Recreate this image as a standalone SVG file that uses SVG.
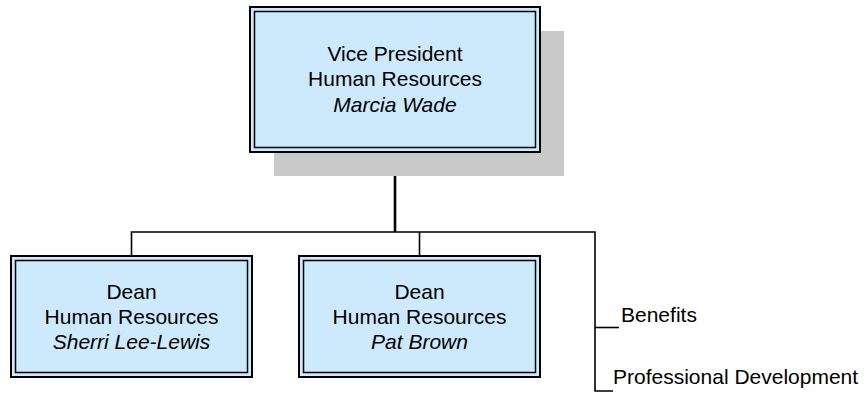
<svg xmlns="http://www.w3.org/2000/svg" width="867" height="393" viewBox="0 0 867 393">
  <style>
    .box { fill: #cdeafd; stroke: #000; stroke-width: 2; }
    .inner { fill: none; stroke: #000; stroke-width: 1.5; }
    .shadow { fill: #c9c9c9; }
    .t { font-family: "Liberation Sans", Arial, sans-serif; font-size: 21px; fill: #000; text-anchor: middle; }
    .lbl { font-family: "Liberation Sans", Arial, sans-serif; font-size: 21px; fill: #000; }
    .it { font-style: italic; }
    .wire { fill: none; stroke: #000; stroke-width: 1.6; }
    .trunk { fill: none; stroke: #000; stroke-width: 2.6; }
  </style>
  <rect width="867" height="393" fill="#fff"/>

  <!-- connectors -->
  <g id="connectors">
    <line class="trunk" x1="395" y1="152" x2="395" y2="232"/>
    <polyline class="wire" points="131.5,256 131.5,232 595,232 595,391 613,391"/>
    <line class="wire" x1="419.5" y1="232" x2="419.5" y2="256"/>
    <line class="wire" x1="595" y1="327.5" x2="619" y2="327.5"/>
  </g>

  <!-- Vice President -->
  <g id="vp">
    <rect class="shadow" x="274" y="31" width="290" height="145"/>
    <rect class="box" x="250" y="7" width="290" height="145"/>
    <rect class="inner" x="254.5" y="11.5" width="281" height="136"/>
    <text class="t" x="395" y="61">Vice President</text>
    <text class="t" x="395" y="86">Human Resources</text>
    <text class="t it" x="395" y="111.5">Marcia Wade</text>
  </g>

  <!-- Dean: Sherri Lee-Lewis -->
  <g id="dean1">
    <rect class="box" x="11" y="256" width="241" height="121"/>
    <rect class="inner" x="15.5" y="260.5" width="232" height="112"/>
    <text class="t" x="131.5" y="298.5">Dean</text>
    <text class="t" x="131.5" y="323.5">Human Resources</text>
    <text class="t it" x="131.5" y="348.5">Sherri Lee-Lewis</text>
  </g>

  <!-- Dean: Pat Brown -->
  <g id="dean2">
    <rect class="box" x="299" y="256" width="241" height="121"/>
    <rect class="inner" x="303.5" y="260.5" width="232" height="112"/>
    <text class="t" x="419.5" y="298.5">Dean</text>
    <text class="t" x="419.5" y="323.5">Human Resources</text>
    <text class="t it" x="419.5" y="348.5">Pat Brown</text>
  </g>

  <!-- assistant positions -->
  <g id="benefits">
    <text class="lbl" x="621" y="322">Benefits</text>
  </g>
  <g id="profdev">
    <text class="lbl" x="613" y="384">Professional Development</text>
  </g>
</svg>
